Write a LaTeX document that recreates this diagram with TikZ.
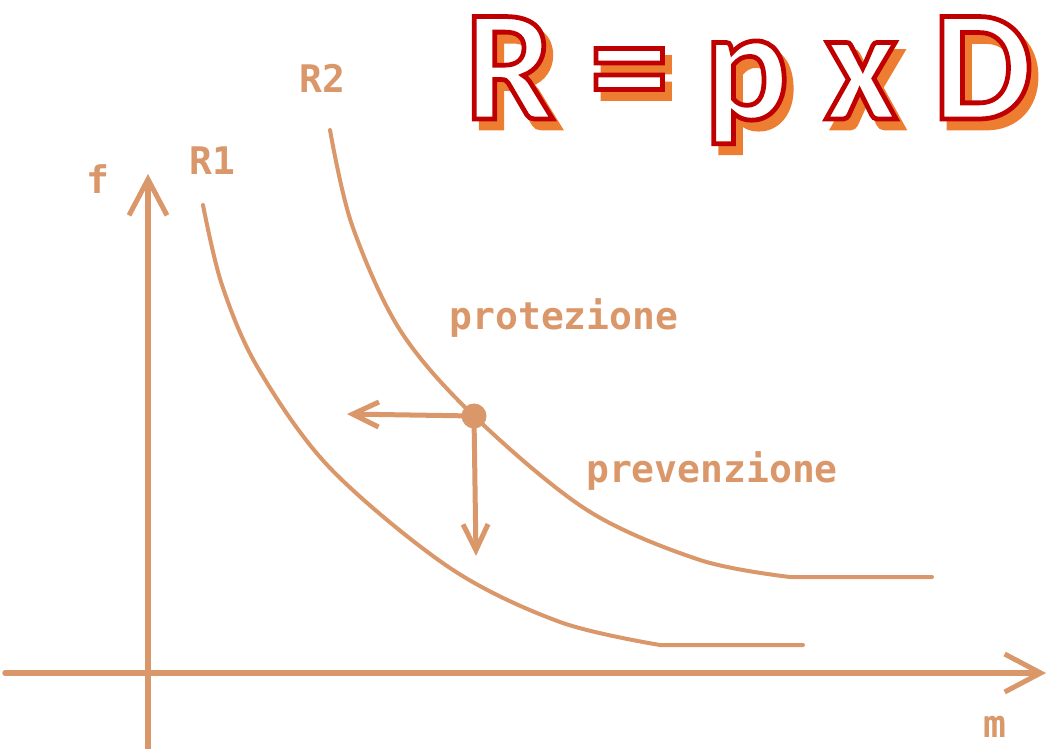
\documentclass[tikz,border=0pt]{standalone}
\usepackage{fontspec}
\usetikzlibrary{arrows.meta}
\newfontfamily\pixfont{DejaVu Sans Mono Bold}
\newfontfamily\titlefont[FakeBold=3]{Carlito Bold}
\definecolor{sketch}{RGB}{217,151,106}
\definecolor{titlered}{RGB}{192,0,0}
\definecolor{titleshade}{RGB}{237,125,49}
\newcommand{\redstroke}{\special{pdf:code 0.753 0 0 RG}}
\begin{document}
\begin{tikzpicture}[
            x=1pt, y=-1pt,
            line cap=round,
            axis/.style={
                draw=sketch,
                line width=5.5pt,
                -{Straight Barb[length=36pt, width=38pt, line width=5pt]}
            },
            curve/.style={
                draw=sketch,
                line width=4pt
            },
            moveline/.style={
                draw=sketch,
                line width=5pt,
                -{Straight Barb[length=26pt, width=25pt, line width=5pt]}
            },
            dot/.style={
                circle,
                fill=sketch,
                minimum size=25pt,
                inner sep=0pt
            },
            tag/.style={
                text=sketch,
                font=\pixfont\fontsize{38}{38}\selectfont,
                anchor=base,
                inner sep=0pt
            },
            titletext/.style={
                font=\titlefont\fontsize{158}{158}\selectfont,
                anchor=base,
                inner sep=0pt
            }
        ]

            \useasboundingbox (0, 0) rectangle (1049, 749);

            \coordinate (xstart) at (5, 673);
            \coordinate (xend) at (1046, 673);
            \coordinate (ystart) at (148, 749);
            \coordinate (yend) at (148, 174);

            \draw[axis] (xstart) -- (xend);
            \draw[axis] (ystart) -- (yend);

            \node[tag] (f) at (98, 193) {f};
            \node[tag] (m) at (995, 737) {m};

            \draw[curve] plot[smooth, tension=0.55] coordinates {
                (203, 205) (222, 285) (258, 368) (330, 468)
                (450, 568) (560, 622) (660, 645)}
                -- (803, 645);
            \draw[curve] plot[smooth, tension=0.55] coordinates {
                (330, 130) (352, 225) (400, 330) (474, 416)
                (587, 510) (700, 560) (790, 577)}
                -- (932, 577);

            \node[tag] (r1) at (212, 175) {R1};
            \node[tag] (r2) at (322, 93) {R2};

            \node[dot] (risk) at (474, 416) {};
            \coordinate (lessd) at (347, 414);
            \coordinate (lessp) at (476, 556);
            \draw[moveline] (risk.center) -- (lessd);
            \draw[moveline] (risk.center) -- (lessp);

            \node[tag] (prot) at (564, 329) {protezione};
            \node[tag] (prev) at (712, 482) {prevenzione};

            \node[titletext, text=titleshade] (shade) at (756, 128)
                {R = p x D};
            \node[titletext] (formula) at (749, 119)
                {\color{white}\redstroke R = p x D};

        \end{tikzpicture}
\end{document}
